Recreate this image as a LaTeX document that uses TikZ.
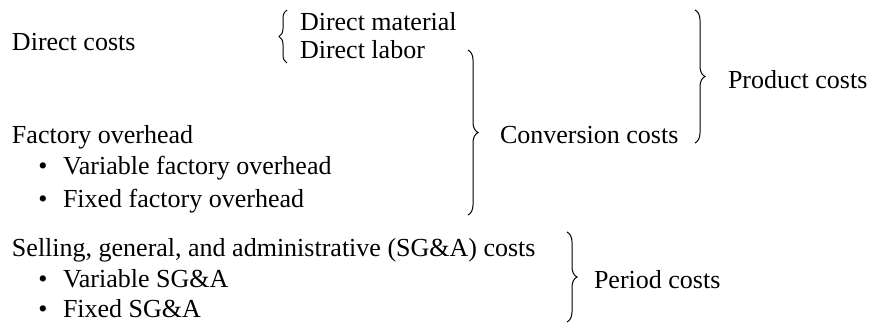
\documentclass[tikz,border=0pt]{standalone}
\usepackage{fontspec}
\setmainfont{Liberation Serif}
\newfontfamily\costfont{Liberation Serif}
\usetikzlibrary{decorations.pathreplacing}
\begin{document}
\begin{tikzpicture}[x=1pt,y=-1pt,
  every node/.style={inner sep=0pt,outer sep=0pt,anchor=base west,
    font=\costfont\fontsize{26}{30}\selectfont},
  item/.style={},
  bul/.style={anchor=base},
  bracket/.style={decorate,decoration={brace,amplitude=#1,aspect=0.5},
    line width=1pt,black},
  bracket/.default=10pt]
\useasboundingbox (0,0) rectangle (877,323);

% product cost items
\node[item] (dc)  at (12,51)  {Direct costs};
\node[item] (dm)  at (300,31) {Direct material};
\node[item] (dl)  at (300,59) {Direct labor};
\node[item] (fo)  at (12,144) {Factory overhead};
\node[bul]  (b1)  at (43,175) {\textbullet};
\node[item] (vfo) at (63,175) {Variable factory overhead};
\node[bul]  (b2)  at (43,207) {\textbullet};
\node[item] (ffo) at (63,207) {Fixed factory overhead};

% period cost items
\node[item] (sga) at (12,256) {Selling, general, and administrative (SG\&A) costs};
\node[bul]  (b3)  at (43,287) {\textbullet};
\node[item] (vsg) at (63,287) {Variable SG\&A};
\node[bul]  (b4)  at (43,317) {\textbullet};
\node[item] (fsg) at (63,317) {Fixed SG\&A};

% group labels
\node[item] (cc) at (500,144) {Conversion costs};
\node[item] (pc) at (728,89)  {Product costs};
\node[item] (pr) at (594,288) {Period costs};

% brace end points
\coordinate (dTop) at (287,10);
\coordinate (dBot) at (287,63);
\coordinate (cTop) at (468,50);
\coordinate (cBot) at (468,215);
\coordinate (pTop) at (695,10);
\coordinate (pBot) at (695,143);
\coordinate (sTop) at (567,232);
\coordinate (sBot) at (567,322);

\draw[bracket=8pt] (dBot) -- (dTop);
\draw[bracket] (cTop) -- (cBot);
\draw[bracket] (pTop) -- (pBot);
\draw[bracket] (sTop) -- (sBot);
\end{tikzpicture}
\end{document}
